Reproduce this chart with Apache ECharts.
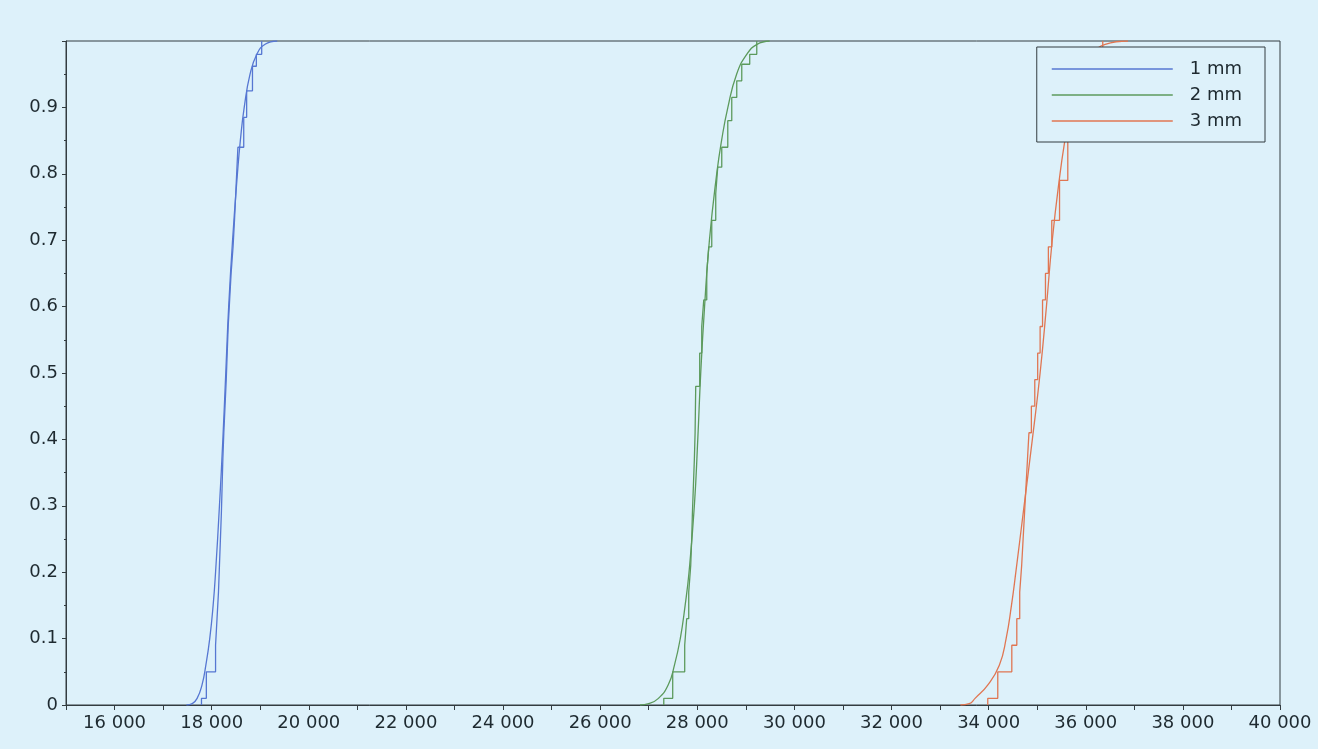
<!DOCTYPE html>
<html>
<head>
<meta charset="utf-8">
<script src="https://cdn.jsdelivr.net/npm/echarts@6/dist/echarts.min.js"></script>
<style>
  html, body { margin: 0; padding: 0; background: #ddf1fa; }
  #cdfChart { width: 1318px; height: 749px; }
</style>
</head>
<body>
<div id="cdfChart"></div>
<script>
  var seriesNames = ['1 mm', '2 mm', '3 mm'];
  var seriesColors = ['#5677d2', '#5c9a5c', '#e07652'];

  var steps1 = [[17790,0],[17790,0.01],[17890,0.05],[18080,0.09],[18110,0.13],[18140,0.17],[18160,0.21],[18180,0.25],[18200,0.29],[18215,0.33],[18230,0.37],[18250,0.41],[18275,0.45],[18300,0.49],[18320,0.53],[18340,0.57],[18370,0.61],[18400,0.65],[18440,0.69],[18470,0.73],[18500,0.777],[18540,0.84],[18660,0.885],[18720,0.925],[18840,0.962],[18920,0.98],[19030,1.0]];
  var fit1 = [[17480,0],[17600,0.002],[17700,0.01],[17800,0.03],[17880,0.06],[17960,0.1],[18030,0.15],[18080,0.2],[18160,0.3],[18230,0.4],[18290,0.5],[18350,0.6],[18430,0.7],[18530,0.8],[18590,0.85],[18670,0.9],[18790,0.95],[18930,0.98],[19100,0.995],[19350,1.0]];

  var steps2 = [[27310,0],[27310,0.01],[27494,0.05],[27741,0.09],[27782,0.13],[27824,0.17],[27865,0.21],[27885,0.25],[27900,0.29],[27920,0.33],[27940,0.37],[27955,0.41],[27968,0.48],[28050,0.53],[28092,0.57],[28133,0.61],[28195,0.65],[28236,0.69],[28298,0.73],[28380,0.77],[28421,0.81],[28504,0.84],[28628,0.88],[28710,0.915],[28813,0.94],[28916,0.965],[29080,0.98],[29225,1.0]];
  var fit2 = [[26820,0],[27000,0.002],[27200,0.01],[27400,0.03],[27530,0.06],[27650,0.1],[27750,0.15],[27830,0.2],[27940,0.3],[28010,0.4],[28071,0.5],[28150,0.6],[28250,0.7],[28400,0.8],[28500,0.85],[28630,0.9],[28810,0.95],[29020,0.98],[29230,0.995],[29490,1.0]];

  var steps3 = [[33982,0],[33982,0.01],[34188,0.05],[34477,0.09],[34580,0.13],[34640,0.17],[34680,0.21],[34710,0.25],[34740,0.29],[34770,0.33],[34800,0.37],[34830,0.41],[34880,0.45],[34950,0.49],[35010,0.53],[35060,0.57],[35110,0.61],[35170,0.65],[35230,0.69],[35300,0.73],[35460,0.79],[35630,0.85],[35700,0.89],[35800,0.93],[35950,0.965],[36150,0.98],[36350,1.0]];
  var fit3 = [[33420,0],[33600,0.002],[33720,0.01],[33980,0.03],[34220,0.06],[34360,0.1],[34470,0.15],[34560,0.2],[34730,0.3],[34900,0.4],[35060,0.5],[35190,0.6],[35310,0.7],[35470,0.8],[35570,0.85],[35690,0.9],[35920,0.95],[36150,0.98],[36400,0.995],[36870,1.0]];

  var allSteps = [steps1, steps2, steps3];
  var allFits = [fit1, fit2, fit3];

  var textColor = '#1e2a30';
  var lineColor = '#333c40';
  var font = 'DejaVu Sans';

  var series = [];
  for (var i = 0; i < 3; i++) {
    series.push({
      name: seriesNames[i],
      type: 'line',
      data: allFits[i],
      smooth: 0.5,
      symbol: 'none',
      color: seriesColors[i],
      lineStyle: { width: 1.3, color: seriesColors[i] }
    });
    series.push({
      name: seriesNames[i],
      type: 'line',
      data: allSteps[i],
      step: 'end',
      symbol: 'none',
      color: seriesColors[i],
      lineStyle: { width: 1.3, color: seriesColors[i] }
    });
  }

  var chart = echarts.init(document.getElementById('cdfChart'));
  chart.setOption({
    backgroundColor: '#ddf1fa',
    animation: false,
    grid: {
      left: 66,
      right: 38,
      top: 41,
      bottom: 44,
      show: true,
      borderColor: lineColor,
      borderWidth: 1,
      backgroundColor: 'transparent'
    },
    legend: {
      data: seriesNames,
      orient: 'vertical',
      right: 53,
      top: 47,
      padding: [13, 23, 12, 15],
      icon: 'rect',
      itemWidth: 121,
      itemHeight: 1.5,
      itemGap: 8,
      backgroundColor: '#ddf1fa',
      borderColor: lineColor,
      borderWidth: 1,
      textStyle: { fontFamily: font, fontSize: 18, color: textColor, padding: [0, 0, 0, 12] }
    },
    xAxis: [{
      type: 'value',
      min: 15000,
      max: 40000,
      interval: 1000,
      axisLine: { lineStyle: { color: lineColor, width: 1 } },
      axisTick: {
        length: 5,
        lineStyle: { color: lineColor },
        interval: function (index, value) { return value % 2000 === 0; }
      },
      axisLabel: {
        fontFamily: font,
        fontSize: 18,
        color: textColor,
        margin: 9,
        formatter: function (v) {
          if (v % 2000 !== 0 || v === 15000) return '';
          return String(v / 1000) + ' 000';
        }
      },
      splitLine: { show: false }
    }, {
      // minor ticks every 1000
      type: 'value',
      position: 'bottom',
      min: 15000,
      max: 40000,
      interval: 1000,
      axisLine: { show: false },
      axisTick: { length: 2, lineStyle: { color: lineColor } },
      axisLabel: { show: false },
      splitLine: { show: false }
    }],
    yAxis: {
      type: 'value',
      min: 0,
      max: 1,
      interval: 0.1,
      axisLine: { show: true, lineStyle: { color: lineColor, width: 1 } },
      axisTick: { show: true, length: 4, lineStyle: { color: lineColor } },
      minorTick: { show: true, splitNumber: 2, length: 2, lineStyle: { color: lineColor } },
      axisLabel: {
        fontFamily: font,
        fontSize: 18,
        color: textColor,
        margin: 8,
        formatter: function (v) {
          if (v >= 0.999) return '';
          if (v === 0) return '0';
          return v.toFixed(1);
        }
      },
      splitLine: { show: false }
    },
    series: series
  });
</script>
</body>
</html>
